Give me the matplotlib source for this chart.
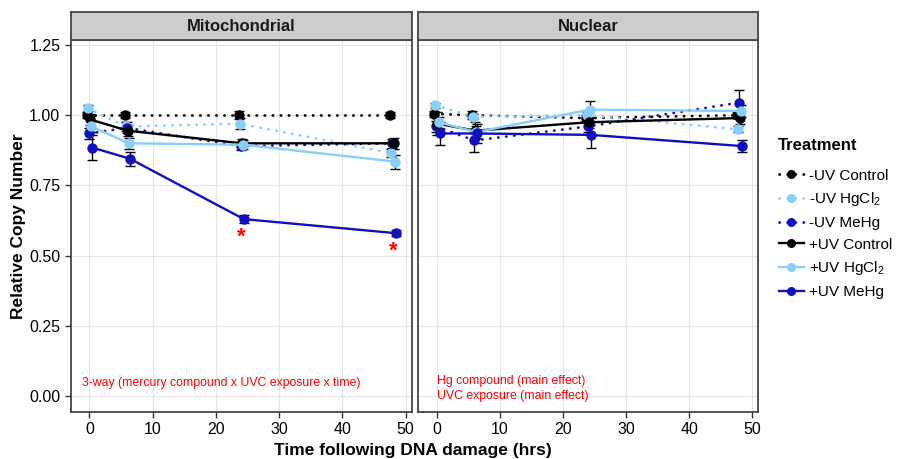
import matplotlib
matplotlib.use("Agg")
import matplotlib.pyplot as plt
from matplotlib.lines import Line2D
import numpy as np

plt.rcParams['font.family'] = ['Liberation Sans', 'DejaVu Sans']
plt.rcParams['mathtext.default'] = 'regular'

# time points (hrs)
hours = [0, 6, 24, 48]

treatments = ['-UV Control', '-UV HgCl$_2$', '-UV MeHg',
              '+UV Control', '+UV HgCl$_2$', '+UV MeHg']
colors = ['black', '#87CEFA', '#1010C0', 'black', '#87CEFA', '#1010C0']
dotted = [True, True, True, False, False, False]

# Mitochondrial panel: mean relative copy number
mito_mean = [
    [1.00, 1.00, 1.00, 1.00],
    [1.025, 0.96, 0.97, 0.865],
    [0.935, 0.955, 0.89, 0.90],
    [0.985, 0.945, 0.90, 0.90],
    [0.96, 0.90, 0.895, 0.835],
    [0.885, 0.845, 0.63, 0.58],
]
mito_se = [
    [0.01, 0.01, 0.015, 0.01],
    [0.01, 0.015, 0.02, 0.015],
    [0.02, 0.02, 0.015, 0.015],
    [0.02, 0.02, 0.015, 0.02],
    [0.02, 0.02, 0.015, 0.025],
    [0.045, 0.025, 0.015, 0.01],
]

# Nuclear panel
nuc_mean = [
    [1.005, 1.00, 0.99, 1.00],
    [1.035, 0.995, 1.00, 0.95],
    [0.96, 0.91, 0.96, 1.045],
    [0.97, 0.945, 0.975, 0.99],
    [0.975, 0.94, 1.02, 1.015],
    [0.935, 0.935, 0.93, 0.89],
]
nuc_se = [
    [0.01, 0.015, 0.01, 0.01],
    [0.01, 0.01, 0.01, 0.01],
    [0.02, 0.04, 0.02, 0.045],
    [0.04, 0.03, 0.02, 0.02],
    [0.02, 0.02, 0.03, 0.02],
    [0.04, 0.035, 0.045, 0.02],
]

# significance stars (mito, +UV MeHg)
star_hours = [24, 48]
star_y = [0.565, 0.515]

DOT = (0, (0.1, 2.8))

fig = plt.figure(figsize=(9.02, 4.59), dpi=100)

ax1 = fig.add_axes([0.0784, 0.1024, 0.378, 0.8105])
ax2 = fig.add_axes([0.4638, 0.1024, 0.3769, 0.8105])
dodge = np.linspace(-5 / 12, 5 / 12, 6)


def draw_panel(ax, means, ses, title):
    for i in range(6):
        x = np.array(hours) + dodge[i]
        ls = DOT if dotted[i] else '-'
        ax.errorbar(x, means[i], yerr=ses[i], fmt='none', ecolor='black',
                    elinewidth=1, capsize=3.5, capthick=1, zorder=2)
        ax.plot(x, means[i], linestyle=ls, color=colors[i],
                lw=2.0 if dotted[i] else 1.7,
                dash_capstyle='round', marker='o', markersize=7.5,
                markeredgewidth=0, zorder=3)
    ax.set_xlim(-2.95, 50.95)
    ax.set_ylim(-0.057, 1.268)
    ax.set_xticks([0, 10, 20, 30, 40, 50])
    ax.set_yticks([0, 0.25, 0.5, 0.75, 1.0, 1.25])
    ax.grid(True, color='#E5E5E5', lw=0.8)
    ax.set_axisbelow(True)
    for s in ax.spines.values():
        s.set_color('#444444')
        s.set_linewidth(1.3)
    ax.tick_params(length=4, width=1, color='#333333', labelsize=11.5,
                   labelcolor='black')
    pos = ax.get_position()
    sax = fig.add_axes([pos.x0, pos.y1, pos.width, 0.0603])
    sax.set_facecolor('#CCCCCC')
    sax.set_xticks([])
    sax.set_yticks([])
    for s in sax.spines.values():
        s.set_color('#444444')
        s.set_linewidth(1.3)
    sax.text(0.5, 0.5, title, ha='center', va='center', fontsize=12,
             fontweight='bold', color='#1A1A1A')


draw_panel(ax1, mito_mean, mito_se, 'Mitochondrial')
draw_panel(ax2, nuc_mean, nuc_se, 'Nuclear')
ax1.set_yticklabels(['0.00', '0.25', '0.50', '0.75', '1.00', '1.25'])
ax2.set_yticklabels([])
ax2.tick_params(axis='y', length=0)

for h, y in zip(star_hours, star_y):
    ax1.text(h, y, '*', color='red', fontsize=16, fontweight='bold',
             ha='center', va='center')

ax1.text(-1.1, 0.046, '3-way (mercury compound x UVC exposure x time)',
         color='red', fontsize=8.8, ha='left', va='center')
ax2.text(0.0, 0.053, 'Hg compound (main effect)', color='red', fontsize=8.8,
         ha='left', va='center')
ax2.text(0.0, 0.0, 'UVC exposure (main effect)', color='red', fontsize=8.8,
         ha='left', va='center')

fig.text(0.02, 0.507, 'Relative Copy Number', rotation=90, ha='center',
         va='center', fontsize=12.5, fontweight='bold')
fig.text(0.458, 0.018, 'Time following DNA damage (hrs)', ha='center',
         va='center', fontsize=12.5, fontweight='bold')

handles = []
for i in range(6):
    ls = DOT if dotted[i] else '-'
    handles.append(Line2D([], [], color=colors[i], linestyle=ls,
                          lw=2.0 if dotted[i] else 1.7,
                          marker='o', markersize=6.5, markeredgewidth=0,
                          dash_capstyle='round'))
fig.text(0.862, 1 - 145 / 459, 'Treatment', ha='left', va='center',
         fontsize=12, fontweight='bold')
leg = fig.legend(handles, treatments, loc='upper left',
                 bbox_to_anchor=(0.852, 1 - 158 / 459), frameon=False,
                 fontsize=11, handlelength=1.6,
                 handletextpad=0.35, labelspacing=0.5, borderpad=0.2)

fig.savefig('out.png', dpi=100)
